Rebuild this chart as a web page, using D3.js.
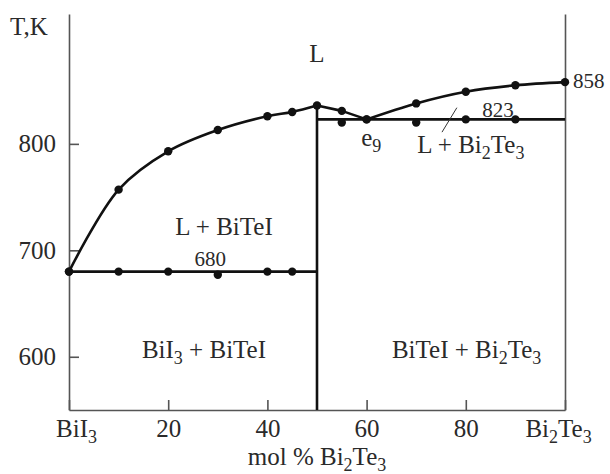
<!DOCTYPE html>
<html>
<head>
<meta charset="utf-8">
<script src="https://cdn.jsdelivr.net/npm/d3@7"></script>
<style>
  html, body { margin: 0; padding: 0; background: #fff; }
  svg { display: block; }
  text { font-family: "Liberation Serif", "DejaVu Serif", serif; fill: #2a2a2a; }
</style>
</head>
<body>
<svg id="chart" width="610" height="474"></svg>
<script>
// Composition axis, mol % Bi2Te3
const xTicks = [0, 20, 40, 60, 80, 100];
const xTickLabels = ["BiI|3", "20", "40", "60", "80", "Bi|2|Te|3"];
const yTicks = [600, 700, 800];

// Liquidus: BiTeI primary crystallisation branch (0 to 50 mol %)
const liqLeftX = [0, 10, 20, 30, 40, 45, 50];
const liqLeftT = [680, 757, 793, 813, 826, 830, 836];
// Liquidus between the BiTeI congruent point and the eutectic e9
const liqMidX = [50, 55, 60];
const liqMidT = [836, 831, 823];
// Liquidus: Bi2Te3 branch (60 to 100 mol %)
const liqRightX = [60, 70, 80, 90, 100];
const liqRightT = [823, 838, 849, 855, 858];

// Eutectic horizontals
const eutLeftT = 680;   // BiI3 – BiTeI
const eutLeftRange = [0, 50];
const eutRightT = 823;  // BiTeI – Bi2Te3
const eutRightRange = [50, 100];

// Measured thermal effects on the eutectic lines
const solLeftX = [0, 10, 20, 30, 40, 45];
const solLeftT = [680, 680, 680, 677, 680, 680];
const solRightX = [55, 60, 70, 80, 90];
const solRightT = [820, 823, 820, 823, 823];

// BiTeI composition (vertical line)
const compoundX = 50;
const compoundT = 836;

const svg = d3.select("#chart");
const x = d3.scaleLinear().domain([0, 100]).range([69, 565]);
const y = d3.scaleLinear().domain([550, 922]).range([410, 14]);

const axisColor = "#555";
const lineColor = "#111";

// Writes "A|sub|B|sub" strings, every second part as a subscript
function chem(sel, str, size) {
  const parts = str.split("|");
  sel.text(null);
  const subSize = Math.round(size * 0.7);
  const shift = Math.round(size * 0.25);
  let down = false;
  parts.forEach((p, i) => {
    const sub = i % 2 === 1;
    const t = sel.append("tspan").text(p);
    if (sub) {
      t.attr("font-size", subSize).attr("dy", shift);
      down = true;
    } else if (down) {
      t.attr("font-size", size).attr("dy", -shift);
      down = false;
    }
  });
}

// Axes
const xAxis = d3.axisBottom(x)
  .tickValues(xTicks)
  .tickSizeInner(-10)
  .tickSizeOuter(0)
  .tickPadding(9)
  .tickFormat(() => "");
const gx = svg.append("g").attr("transform", "translate(0,410)").call(xAxis);

const yAxis = d3.axisLeft(y)
  .tickValues(yTicks)
  .tickSizeInner(-10)
  .tickSizeOuter(0)
  .tickPadding(13)
  .tickFormat(d3.format("d"));
const gy = svg.append("g").attr("transform", "translate(69,0)").call(yAxis);

const gr = svg.append("g").attr("transform", "translate(565,0)")
  .call(d3.axisRight(y).tickValues([]).tickSizeOuter(0));

[gx, gy, gr].forEach(g => {
  g.select(".domain").attr("stroke", axisColor).attr("stroke-width", 1.6);
  g.selectAll(".tick line").attr("stroke", axisColor).attr("stroke-width", 1.6);
  g.selectAll(".tick text").attr("font-family", "Liberation Serif").attr("font-size", 25).attr("fill", "#2a2a2a");
});
gy.selectAll(".tick text").attr("dy", "0.32em");

// x tick labels with chemical subscripts
gx.selectAll(".tick").each(function(d, i) {
  const t = d3.select(this).select("text")
    .attr("font-family", "Liberation Serif").attr("font-size", 25)
    .attr("dy", "0.71em")
    .attr("dx", i === 0 ? 7 : (i === xTicks.length - 1 ? -7 : 0));
  chem(t, xTickLabels[i], 25);
});

// Axis titles
svg.append("text").attr("x", 10).attr("y", 35).attr("font-size", 25).text("T,K");
const xt = svg.append("text").attr("x", x(50)).attr("y", 465)
  .attr("text-anchor", "middle").attr("font-size", 25);
chem(xt, "mol % Bi|2|Te|3", 25);

// Lines
const pts = (xs, ts) => xs.map((d, i) => [d, ts[i]]);
const lineSmooth = d3.line().x(d => x(d[0])).y(d => y(d[1])).curve(d3.curveCatmullRom.alpha(0.5));
const lineMono = d3.line().x(d => x(d[0])).y(d => y(d[1])).curve(d3.curveMonotoneX);
const lineLin = d3.line().x(d => x(d[0])).y(d => y(d[1]));

const lines = svg.append("g").attr("fill", "none").attr("stroke", lineColor)
  .attr("stroke-width", 2.6).attr("stroke-linejoin", "round").attr("stroke-linecap", "butt");

lines.append("path").attr("d", lineSmooth(pts(liqLeftX, liqLeftT)));
lines.append("path").attr("d", lineLin(pts(liqMidX, liqMidT)));
lines.append("path").attr("d", lineMono(pts(liqRightX, liqRightT)));
lines.append("path").attr("d", lineLin(eutLeftRange.map(d => [d, eutLeftT])));
lines.append("path").attr("d", lineLin(eutRightRange.map(d => [d, eutRightT])));
lines.append("path").attr("d", lineLin([[compoundX, compoundT], [compoundX, 550]]));

// Leader line for the L + Bi2Te3 field
svg.append("path")
  .attr("d", lineLin([[75.2, 811], [78.2, 834]]))
  .attr("stroke", "#333").attr("stroke-width", 1).attr("fill", "none");

// Data points
const allPts = [].concat(
  pts(liqLeftX, liqLeftT),
  pts(liqMidX.slice(1), liqMidT.slice(1)),
  pts(liqRightX.slice(1), liqRightT.slice(1)),
  pts(solLeftX, solLeftT),
  pts(solRightX, solRightT)
);
svg.append("g").selectAll("circle").data(allPts).join("circle")
  .attr("cx", d => x(d[0])).attr("cy", d => y(d[1])).attr("r", 4.2)
  .attr("fill", lineColor);

// Field labels and annotations (positions in data units)
const labels = [
  { t: "L", x: 50, T: 877, a: "middle", s: 25 },
  { t: "L + BiTeI", x: 31.25, T: 714.4, a: "middle", s: 25 },
  { t: "680", x: 28.5, T: 685.3, a: "middle", s: 21 },
  { t: "BiI|3| + BiTeI", x: 14.7, T: 598.8, a: "start", s: 25 },
  { t: "BiTeI + Bi|2|Te|3", x: 65.1, T: 598.8, a: "start", s: 25 },
  { t: "e|9", x: 58.9, T: 798, a: "start", s: 25 },
  { t: "L + Bi|2|Te|3", x: 70.2, T: 791.4, a: "start", s: 25 },
  { t: "823", x: 83.3, T: 825.2, a: "start", s: 21 },
  { t: "858", x: 101.6, T: 852.5, a: "start", s: 21 }
];
labels.forEach(l => {
  const t = svg.append("text").attr("x", x(l.x)).attr("y", y(l.T))
    .attr("text-anchor", l.a).attr("font-size", l.s);
  chem(t, l.t, l.s);
});
</script>
</body>
</html>
